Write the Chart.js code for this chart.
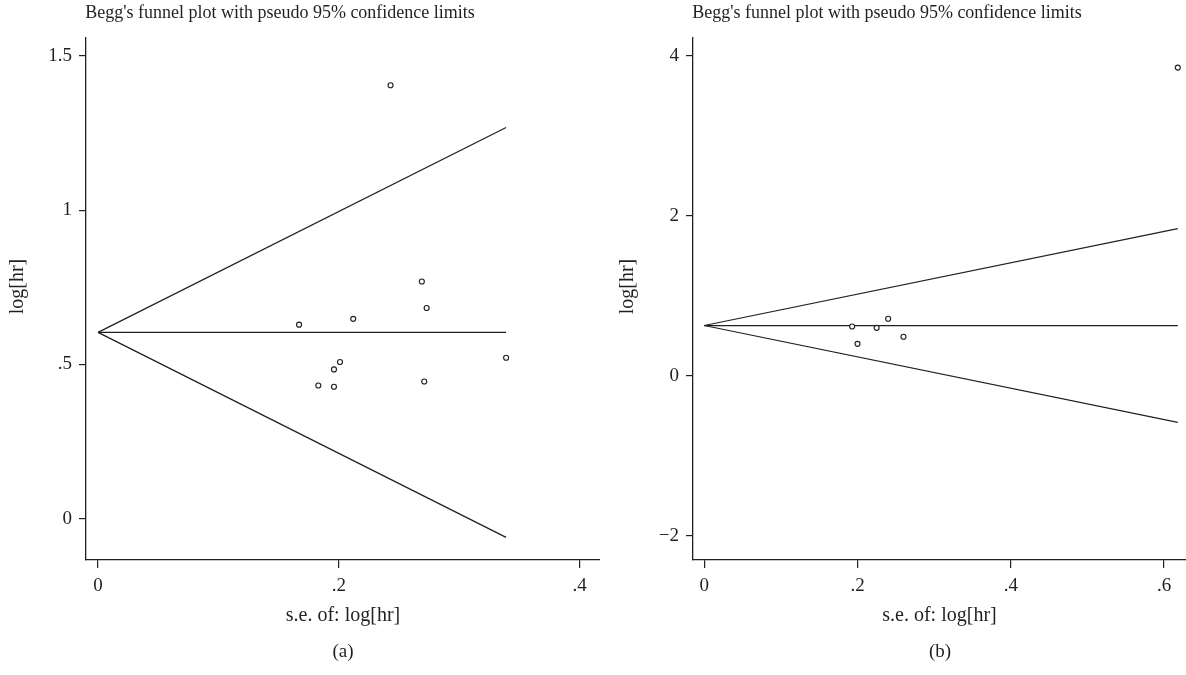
<!DOCTYPE html>
<html><head><meta charset="utf-8">
<script src="https://cdn.jsdelivr.net/npm/chart.js@4.4.1/dist/chart.umd.min.js"></script>
<style>
html,body{margin:0;padding:0;background:#fff}
body{width:1186px;height:675px;overflow:hidden;position:relative;font-family:"Liberation Serif",serif;color:#231f20}
.box{position:absolute;top:0;height:675px}
#wa{left:0;width:600px}
#wb{left:600px;width:586px}
.t{position:absolute;font-size:18px;line-height:22px;white-space:nowrap;transform:translateX(-50%)}
.c{font-size:19px}
</style></head>
<body>
<div class="box" id="wa"><canvas id="ca"></canvas></div>
<div class="box" id="wb"><canvas id="cb"></canvas></div>
<div class="t" style="left:280px;top:1px">Begg's funnel plot with pseudo 95% confidence limits</div>
<div class="t" style="left:887px;top:1px">Begg's funnel plot with pseudo 95% confidence limits</div>
<div class="t c" style="left:343px;top:640px">(a)</div>
<div class="t c" style="left:940px;top:640px">(b)</div>
<script>
// ---- Panel (a) data ----
const seA = [0.167, 0.212, 0.273, 0.269, 0.339, 0.201, 0.196, 0.183, 0.196, 0.271, 0.243];
const logHrA = [0.629, 0.648, 0.683, 0.769, 0.522, 0.508, 0.484, 0.432, 0.428, 0.445, 1.405];
const funnelSeA = [0, 0.339];
const pooledA = [0.604, 0.604];
const upperA = [0.604, 1.268];
const lowerA = [0.604, -0.060];
const xTicksA = [0, 0.2, 0.4];
const xLabelsA = ['0', '.2', '.4'];
const yTicksA = [0, 0.5, 1, 1.5];
const yLabelsA = ['0', '.5', '1', '1.5'];

// ---- Panel (b) data ----
const seB = [0.193, 0.225, 0.240, 0.260, 0.200, 0.618];
const logHrB = [0.616, 0.600, 0.713, 0.488, 0.400, 3.85];
const funnelSeB = [0, 0.618];
const pooledB = [0.629, 0.629];
const upperB = [0.629, 1.840];
const lowerB = [0.629, -0.582];
const xTicksB = [0, 0.2, 0.4, 0.6];
const xLabelsB = ['0', '.2', '.4', '.6'];
const yTicksB = [-2, 0, 2, 4];
const yLabelsB = ['\u22122', '0', '2', '4'];

const INK = '#231f20';
const FONT = '"Liberation Serif", serif';
const BOTTOM = 560;

function pts(xs, ys) { return xs.map((x, i) => ({x: x, y: ys[i]})); }
function lineDs(xs, ys) {
  return {type: 'line', data: pts(xs, ys), borderColor: INK, borderWidth: 1.25,
          pointRadius: 0, fill: false, tension: 0, order: 2};
}

function makeChart(id, d) {
  new Chart(document.getElementById(id), {
    type: 'scatter',
    data: {
      datasets: [
        lineDs(d.fse, d.pooled),
        lineDs(d.fse, d.upper),
        lineDs(d.fse, d.lower),
        {type: 'scatter', data: pts(d.se, d.y), pointStyle: 'circle', pointRadius: 2.5,
         borderWidth: 1.15, borderColor: INK, backgroundColor: '#fff', order: 1}
      ]
    },
    options: {
      responsive: true, maintainAspectRatio: false, animation: false,
      layout: {autoPadding: false, padding: {top: 38, left: 0, right: 0, bottom: 0}},
      plugins: {legend: {display: false}, tooltip: {enabled: false}, title: {display: false}},
      scales: {
        x: {
          type: 'linear', min: d.xmin, max: d.xmax,
          afterBuildTicks: s => { s.ticks = d.xt.map(v => ({value: v})); },
          afterFit: s => { s.height = 675 - BOTTOM; },
          ticks: {color: INK, font: {family: FONT, size: 19}, padding: 7,
                  maxRotation: 0, autoSkip: false,
                  callback: v => d.xl[d.xt.indexOf(v)]},
          grid: {drawOnChartArea: false, drawTicks: true, tickLength: 8, color: INK, lineWidth: 1.2},
          border: {display: true, color: INK, width: 1.3},
          title: {display: true, text: 's.e. of: log[hr]', color: INK,
                  font: {family: FONT, size: 20}, padding: {top: 0, bottom: 47}}
        },
        y: {
          type: 'linear', min: d.ymin, max: d.ymax,
          afterBuildTicks: s => { s.ticks = d.yt.map(v => ({value: v})); },
          afterFit: s => { s.width = d.yw; },
          ticks: {color: INK, font: {family: FONT, size: 19}, padding: 7, autoSkip: false,
                  callback: v => d.yl[d.yt.indexOf(v)]},
          grid: {drawOnChartArea: false, drawTicks: true, tickLength: 7, color: INK, lineWidth: 1.2},
          border: {display: true, color: INK, width: 1.3},
          title: {display: true, text: '     log[hr]', color: INK,
                  font: {family: FONT, size: 20}, padding: {top: d.tp, bottom: 0}}
        }
      }
    }
  });
}

makeChart('ca', {se: seA, y: logHrA, fse: funnelSeA, pooled: pooledA, upper: upperA, lower: lowerA,
  xt: xTicksA, xl: xLabelsA, yt: yTicksA, yl: yLabelsA,
  xmin: -0.010, xmax: 0.417, ymin: -0.1335, ymax: 1.558, yw: 86, tp: 6});
makeChart('cb', {se: seB, y: logHrB, fse: funnelSeB, pooled: pooledB, upper: upperB, lower: lowerB,
  xt: xTicksB, xl: xLabelsB, yt: yTicksB, yl: yLabelsB,
  xmin: -0.0147, xmax: 0.6287, ymin: -2.30, ymax: 4.22, yw: 93, tp: 16});
</script>
</body></html>
